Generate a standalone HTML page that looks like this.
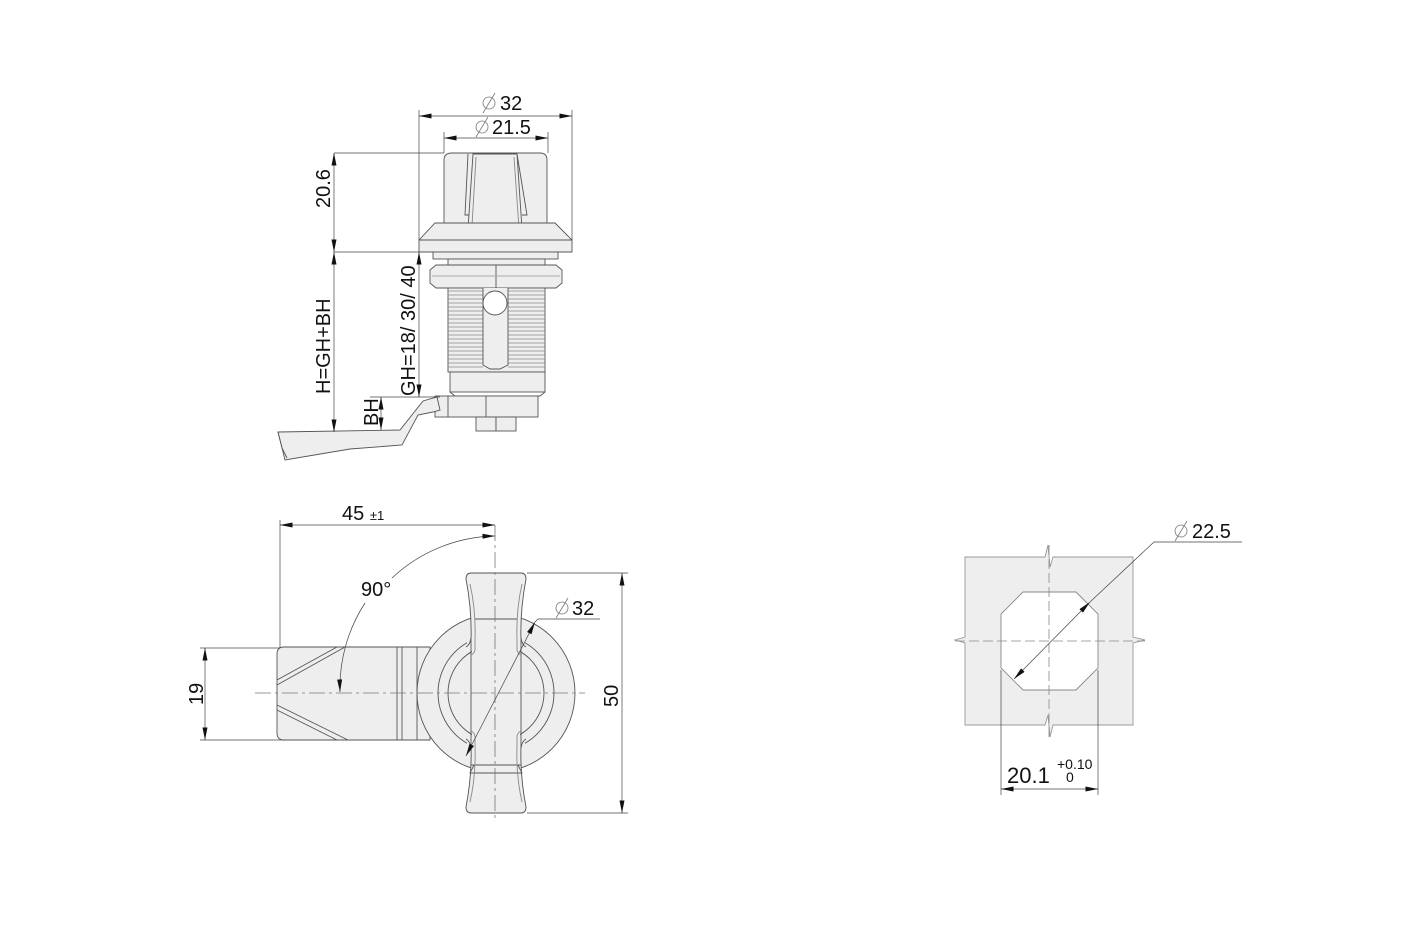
<!DOCTYPE html>
<html><head><meta charset="utf-8"><style>
html,body{margin:0;padding:0;background:#fff}
svg{display:block}
text{font-family:"Liberation Sans",sans-serif;fill:#111}
</style></head><body>
<svg width="1424" height="940" viewBox="0 0 1424 940" xmlns="http://www.w3.org/2000/svg">
<defs>
<marker id="a" viewBox="0 0 10 4" refX="10" refY="2" markerWidth="14" markerHeight="5" orient="auto-start-reverse" markerUnits="userSpaceOnUse"><path d="M0,0 L10,2 L0,4z" fill="#111"/></marker>
<clipPath id="c1"><rect x="400" y="600" width="67" height="200"/><rect x="525" y="600" width="67" height="200"/></clipPath>
<clipPath id="c2"><rect x="400" y="600" width="72" height="200"/><rect x="520" y="600" width="72" height="200"/></clipPath>
</defs>
<g stroke="#555" stroke-width="0.9" fill="#eee">
<!-- ===== side view ===== -->
<path d="M444,160 Q444,153 452,153 L540,153 Q547,153 547,160 L547,224 L444,224z"/>
<path d="M468,154 L465,215 L470,215 M517,154 L527,215 L522,215" fill="none"/>
<path d="M473,154 L517,154 L523,244 L467,244 Z"/>
<path d="M476,157 L471,243 M514,157 L520,243" fill="none" stroke="#888"/>
<path d="M435,223 L555,223 L572,240 L572,252 L419,252 L419,240z"/>
<line x1="419" y1="240" x2="572" y2="240"/>
<rect x="433" y="252" width="125" height="7"/>
<rect x="448" y="259" width="97" height="7"/>
<path d="M430,270 L436,265 L556,265 L562,270 L562,283 L556,288 L436,288 L430,283z"/>
<line x1="496" y1="265" x2="496" y2="288"/>
<line x1="432" y1="276" x2="560" y2="276" stroke="#aaa"/>
<rect x="448" y="288" width="97" height="84"/>
<g stroke="#888" stroke-width="0.8">
<path d="M448,291 H483 M448,295 H483 M448,299 H483 M448,303 H483 M448,307 H483 M448,311 H483 M448,315 H483 M448,319 H483 M448,323 H483 M448,327 H483 M448,331 H483 M448,335 H483 M448,339 H483 M448,343 H483 M448,347 H483 M448,351 H483 M448,355 H483 M448,359 H483 M448,363 H483 M448,367 H483"/>
<path d="M508,291 H545 M508,295 H545 M508,299 H545 M508,303 H545 M508,307 H545 M508,311 H545 M508,315 H545 M508,319 H545 M508,323 H545 M508,327 H545 M508,331 H545 M508,335 H545 M508,339 H545 M508,343 H545 M508,347 H545 M508,351 H545 M508,355 H545 M508,359 H545 M508,363 H545 M508,367 H545"/>
</g>
<path d="M483,288 L483,365 L490,369 L500,369 L508,365 L508,288" fill="#eee"/>
<circle cx="495" cy="303" r="12" fill="#fff"/>
<rect x="450" y="372" width="95" height="20"/>
<path d="M450,392 L455,396 L540,396 L545,392" fill="none"/>
<rect x="435" y="396" width="103" height="21"/>
<line x1="448" y1="396" x2="448" y2="417"/><line x1="486" y1="396" x2="486" y2="417"/>
<rect x="476" y="417" width="20" height="14"/><rect x="496" y="417" width="20" height="14"/>
<path d="M278,432 L400,430 L423,401 L437,397 L440,410 L433,412 L418,415 L402,445 L350,449 L285,460 Z"/>
<path d="M278,432 L282,448 L287,458" fill="none"/>
<!-- ===== front view ===== -->
<path d="M284,647 L430,647 L430,740 L284,740 Q277,740 277,733 L277,654 Q277,647 284,647z"/>
<path d="M277,680 L337,647 M277,685 L345,647 M277,705 L348,740 M277,710 L337,740 M397,647 V740 M402,647 V740 M417,647 V740" fill="none"/>
<circle cx="496" cy="693" r="79"/>
<!-- handle -->
<path d="M471,573 L521,573 Q526,573 526,579 Q520,610 521,640 L521,746 Q520,776 526,807 Q526,813 521,813 L471,813 Q466,813 466,807 Q472,776 471,746 L471,640 Q472,610 466,579 Q466,573 471,573 Z"/>
<g fill="none">
<path d="M470,584 Q476,610 475,640 M522,584 Q516,610 517,640" stroke="#888"/>
<path d="M475,619 L517,619"/>
<path d="M471,765 L521,765 M474,765 L470,773 L522,773 L518,765"/>
<path d="M475,746 Q476,776 470,802 M517,746 Q516,776 522,802" stroke="#888"/>
<!-- rings -->
<circle cx="496" cy="693" r="58" clip-path="url(#c1)"/>
<circle cx="496" cy="693" r="48" clip-path="url(#c2)"/>
<path d="M471,638 Q470,645 466,647 M521,638 Q522,645 526,647 M471,748 Q470,741 466,739 M521,748 Q522,741 526,739"/>
<path d="M475,640 L475,650 Q474,654 471,655 M517,640 L517,650 Q518,654 521,655 M475,746 L475,736 Q474,732 471,731 M517,746 L517,736 Q518,732 521,731" stroke="#888"/>
</g>
<!-- ===== cutout ===== -->
<path d="M965,557 L1045,557 L1048,545 L1050,567 L1053,557 L1133,557 L1133,637 L1145,640 L1133,643 L1133,725 L1053,725 L1050,737 L1048,715 L1045,725 L965,725 L965,643 L955,640 L965,637 Z" fill="#eee" stroke="#999"/>
<path d="M1023,592 L1076,592 L1098,614 L1098,668 L1076,690 L1023,690 L1001,668 L1001,614 Z" fill="#fff" stroke="#888"/>
</g>
<!-- center lines -->
<g stroke="#777" stroke-width="0.8" fill="none" stroke-dasharray="16,4,3,4">
<line x1="255" y1="693" x2="585" y2="693"/>
<line x1="495" y1="525" x2="495" y2="822"/>
</g>
<g stroke="#888" stroke-width="0.8" fill="none" stroke-dasharray="10,4">
<line x1="955" y1="641" x2="1145" y2="641"/>
<line x1="1049" y1="545" x2="1049" y2="737"/>
</g>
<!-- dimension lines -->
<g stroke="#444" stroke-width="0.7" fill="none">
<line x1="419" y1="110" x2="419" y2="240"/><line x1="572" y1="110" x2="572" y2="240"/>
<line x1="444" y1="132" x2="444" y2="153"/><line x1="548" y1="132" x2="548" y2="153"/>
<line x1="419" y1="116" x2="572" y2="116" marker-start="url(#a)" marker-end="url(#a)"/>
<line x1="444" y1="138" x2="548" y2="138" marker-start="url(#a)" marker-end="url(#a)"/>
<line x1="334" y1="153" x2="444" y2="153"/><line x1="334" y1="252" x2="419" y2="252"/>
<line x1="334" y1="153" x2="334" y2="252" marker-start="url(#a)" marker-end="url(#a)"/>
<line x1="334" y1="252" x2="334" y2="432" marker-start="url(#a)" marker-end="url(#a)"/>
<line x1="419" y1="252" x2="419" y2="397" marker-start="url(#a)" marker-end="url(#a)"/>
<line x1="370" y1="397" x2="440" y2="397"/>
<line x1="381" y1="397" x2="381" y2="430" marker-start="url(#a)" marker-end="url(#a)"/>
<line x1="280" y1="520" x2="280" y2="648"/>
<line x1="280" y1="525" x2="495" y2="525" marker-start="url(#a)" marker-end="url(#a)"/>
<path d="M392,578 A155,155 0 0 1 495,536" marker-end="url(#a)"/>
<path d="M365,603 A155,155 0 0 0 340,692" marker-end="url(#a)"/>
<line x1="200" y1="648" x2="280" y2="648"/><line x1="200" y1="740" x2="285" y2="740"/>
<line x1="205" y1="648" x2="205" y2="740" marker-start="url(#a)" marker-end="url(#a)"/>
<line x1="527" y1="573" x2="628" y2="573"/><line x1="527" y1="813" x2="628" y2="813"/>
<line x1="622" y1="573" x2="622" y2="813" marker-start="url(#a)" marker-end="url(#a)"/>
<line x1="466" y1="756" x2="535" y2="622" marker-start="url(#a)" marker-end="url(#a)"/>
<polyline points="535,622 538,619 600,619"/>
<line x1="1014" y1="679" x2="1090" y2="602" marker-start="url(#a)" marker-end="url(#a)"/>
<polyline points="1090,602 1154,542 1242,542"/>
<line x1="1001" y1="670" x2="1001" y2="795"/><line x1="1098" y1="670" x2="1098" y2="795"/>
<line x1="1001" y1="789" x2="1098" y2="789" marker-start="url(#a)" marker-end="url(#a)"/>
</g>
<!-- diameter symbols -->
<g stroke="#777" stroke-width="0.8" fill="none">
<circle cx="489" cy="103" r="6"/><line x1="483" y1="113" x2="495" y2="93"/>
<circle cx="482" cy="127" r="6"/><line x1="476" y1="137" x2="488" y2="117"/>
<circle cx="562" cy="608" r="6"/><line x1="556" y1="618" x2="568" y2="598"/>
<circle cx="1181" cy="531" r="6"/><line x1="1175" y1="541" x2="1187" y2="521"/>
</g>
<!-- texts -->
<g font-size="20">
<text x="500" y="110">32</text>
<text x="492" y="134">21.5</text>
<text transform="translate(330,208) rotate(-90)">20.6</text>
<text transform="translate(330,394) rotate(-90)">H=GH+BH</text>
<text transform="translate(415,396) rotate(-90)">GH=18/ 30/ 40</text>
<text transform="translate(378,426) rotate(-90)">BH</text>
<text x="342" y="520">45 <tspan font-size="13">±1</tspan></text>
<text x="361" y="596">90°</text>
<text transform="translate(203,705) rotate(-90)">19</text>
<text transform="translate(618,707) rotate(-90)">50</text>
<text x="572" y="615">32</text>
<text x="1192" y="538">22.5</text>
<text x="1007" y="783" font-size="22">20.1</text>
<text x="1057" y="769" font-size="14">+0.10</text>
<text x="1066" y="782" font-size="14">0</text>
</g>
</svg>
</body></html>
